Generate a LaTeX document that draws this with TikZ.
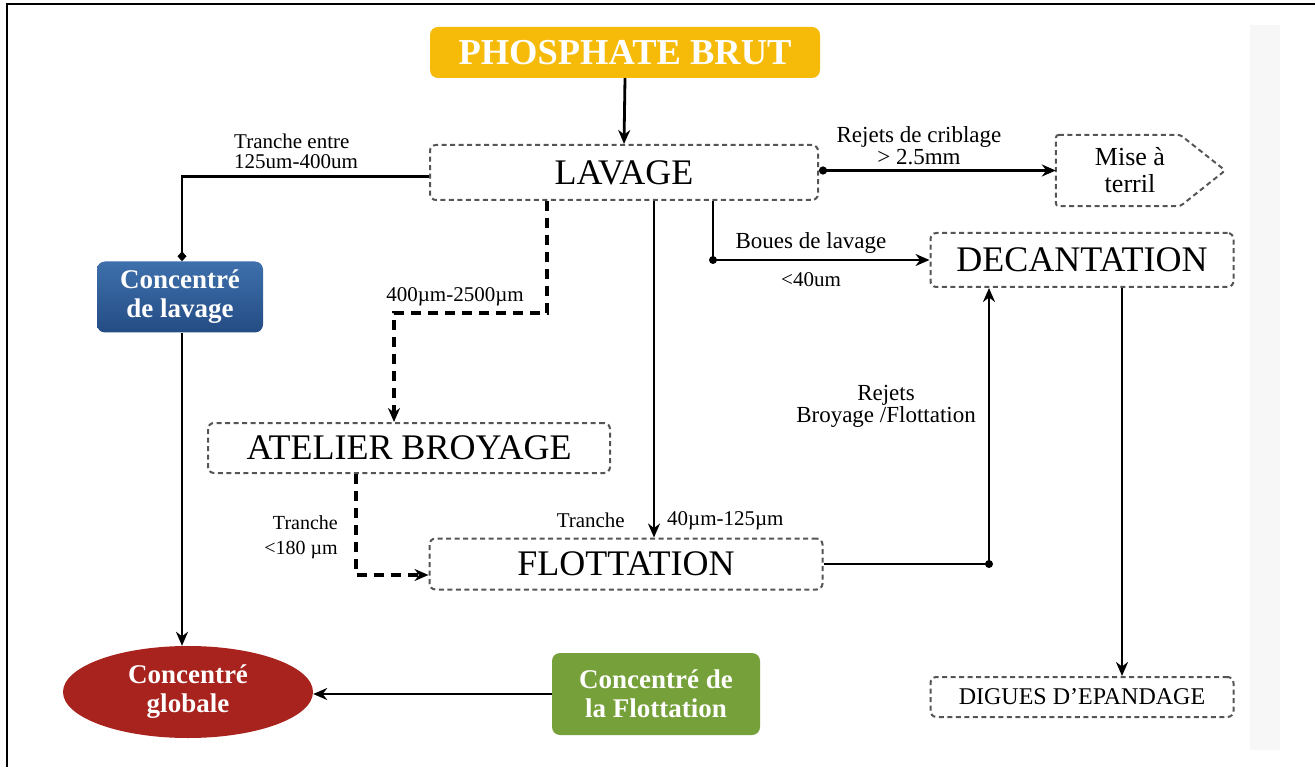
\documentclass[tikz,border=0pt]{standalone}
\usepackage{fontspec}
\setmainfont{Liberation Serif}
\usetikzlibrary{arrows.meta,calc,shapes.geometric}
\definecolor{phos}{RGB}{246,186,8}
\definecolor{blutop}{RGB}{62,112,172}
\definecolor{blubot}{RGB}{36,76,132}
\definecolor{redc}{RGB}{168,34,30}
\definecolor{grn}{RGB}{118,160,58}
\definecolor{dgray}{RGB}{85,85,85}
\begin{document}
\begin{tikzpicture}[x=1pt,y=-1pt,
  dbox/.style={draw=dgray, dash pattern=on 5pt off 3.5pt, line width=2pt, rounded corners=6pt, inner sep=0pt, font=\fontsize{36}{40}\selectfont},
  dline/.style={draw=dgray, dash pattern=on 5pt off 3.5pt, line width=2pt, rounded corners=3pt},
  conn/.style={line width=2.8pt, draw=black},
  arr/.style={conn, -{Stealth[length=14pt,width=12pt]}},
  darr/.style={arr, dash pattern=on 10pt off 7pt, line width=3.4pt},
  lbl/.style={font=\fontsize{21}{20}\selectfont, inner sep=0pt, align=center},
  cbox/.style={rounded corners=8pt, text=white, font=\bfseries\fontsize{27}{29}\selectfont, align=center, inner sep=0pt}
]
\useasboundingbox (0,0) rectangle (1315,767);
\fill[black!3] (1250,25) rectangle (1280,750);
\draw[line width=1.2pt] (7,767) -- (7,4) -- (1315,4);

% nodes
\node[cbox, fill=phos, minimum width=390, minimum height=51, font=\bfseries\fontsize{36.5}{38}\selectfont] (phos) at (625,52.5) {PHOSPHATE BRUT};
\node[dbox, minimum width=388, minimum height=55] (lav) at (624,172.5) {LAVAGE};
\node[dbox, minimum width=402, minimum height=50] (atel) at (409,448) {ATELIER BROYAGE};
\node[dbox, minimum width=393, minimum height=51] (flot) at (626,564) {FLOTTATION};
\node[dbox, minimum width=303, minimum height=54] (deca) at (1082,260) {DECANTATION};
\node[dbox, minimum width=303, minimum height=40, font=\fontsize{24}{26}\selectfont] (digu) at (1082,697) {DIGUES D'EPANDAGE};
\node[minimum width=148, minimum height=71, inner sep=0pt, align=center, font=\fontsize{26}{27}\selectfont] (mise) at (1130,170.5) {Mise à\\terril};
\draw[dline] (mise.north west) -- ([xshift=-24]mise.north east) -- ([xshift=21]mise.east) -- ([xshift=-24]mise.south east) -- (mise.south west) -- cycle;
\node[cbox, top color=blutop, bottom color=blubot, minimum width=166, minimum height=71] (clav) at (180,297) {Concentré\\de lavage};
\node[cbox, fill=grn, minimum width=208, minimum height=82] (cflo) at (656,694) {Concentré de\\la Flottation};
\node[ellipse, fill=redc, minimum width=250, minimum height=92, inner sep=0pt, text=white, align=center, font=\bfseries\fontsize{27}{29}\selectfont] (glob) at (188,692) {Concentré\\globale};

% connectors
\draw[arr] (phos.south) -- (lav.north);
\draw[conn, -{Diamond[length=10pt,width=9pt]}] ([yshift=-4]lav.west) -| ([xshift=2]clav.north);
\draw[arr] ([xshift=2]clav.south) -- ([xshift=2]clav.south |- glob.north);
\draw[arr] (cflo.west) -- (cflo.west -| glob.east);
\draw[darr] ([xshift=-77]lav.south) -- ++(0,112) -| ([xshift=-15]atel.north);
\draw[darr] ([xshift=-53]atel.south) |- ([yshift=-11]flot.west);
\draw[arr] ([xshift=30]lav.south) -- ([xshift=30]lav.south |- flot.north);
\coordinate (bc) at ([xshift=89]lav.south |- deca.west);
\draw[arr] ([xshift=89]lav.south) -- (bc) -- (deca.west);
\fill (bc) circle (4);
\draw[arr, {Circle[length=8pt]}-{Stealth[length=14pt,width=12pt]}] (lav.east |- mise.west) -- (mise.west);
\coordinate (fc) at ([xshift=-93]deca.south |- flot.east);
\draw[arr] (flot.east) -- (fc) -- ([xshift=-93]deca.south);
\fill (fc) circle (4);
\draw[arr] ([xshift=40]deca.south) -- ([xshift=40]deca.south |- digu.north);

% labels
\node[lbl, align=left, anchor=west] (l1) at (234,151) {Tranche entre\\125um-400um};
\node[lbl] (l2) at (455,297) {400µm-2500µm};
\node[lbl, align=right, anchor=east, font=\fontsize{20}{25}\selectfont] (l3) at (338,537) {Tranche\\<180 µm};
\node[lbl, anchor=east] (l4) at (625,520) {Tranche};
\node[lbl, anchor=west] (l5) at (667,521) {40µm-125µm};
\node[lbl, font=\fontsize{23}{22}\selectfont] (l6) at (919,146) {Rejets de criblage\\> 2.5mm};
\node[lbl, font=\fontsize{23}{22}\selectfont] (l7) at (811,243) {Boues de lavage};
\node[lbl] (l8) at (811,280) {<40um};
\node[lbl, font=\fontsize{23}{22}\selectfont] (l9) at (886,406) {Rejets\\Broyage /Flottation};
\end{tikzpicture}
\end{document}
